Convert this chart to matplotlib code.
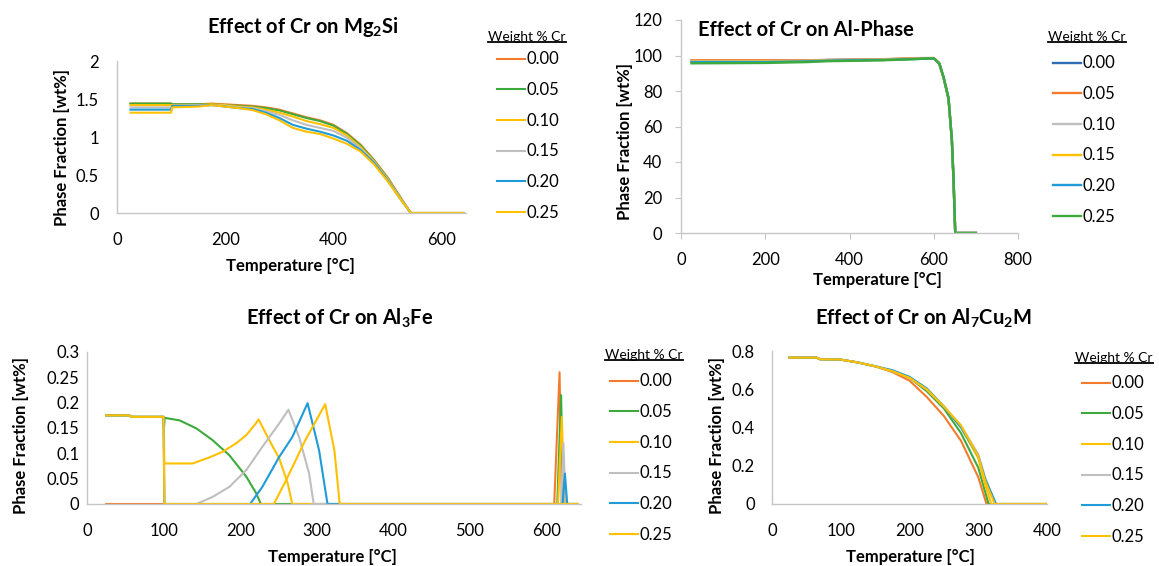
import matplotlib.pyplot as plt
from matplotlib.lines import Line2D

plt.rcParams['font.family'] = ['Lato', 'DejaVu Sans']
plt.rcParams['mathtext.fontset'] = 'custom'
plt.rcParams['mathtext.rm'] = 'Lato'
plt.rcParams['mathtext.bf'] = 'Lato:bold'

W, H = 1159, 566

cr_levels = ['0.00', '0.05', '0.10', '0.15', '0.20', '0.25']

ORANGE = '#F47B2C'
GREEN = '#3DAA3C'
YELLOW = '#FFC000'
GRAY = '#BFBFBF'
BLUE = '#1F9BD7'
DBLUE = '#2F6DB5'

# --- Mg2Si ---
mg2si_temp = [25, 100, 102, 150, 175, 200, 225, 250, 275, 300, 325, 350, 375, 400, 425, 450,
              475, 500, 520, 543, 640]
mg2si_frac = [
    [1.44, 1.44, 1.43, 1.43, 1.44, 1.43, 1.42, 1.41, 1.39, 1.36, 1.31, 1.26, 1.22, 1.16, 1.05,
     0.90, 0.70, 0.47, 0.25, 0.0, 0.0],
    [1.44, 1.44, 1.43, 1.43, 1.43, 1.42, 1.41, 1.40, 1.38, 1.35, 1.30, 1.25, 1.21, 1.15, 1.04,
     0.89, 0.69, 0.46, 0.24, 0.0, 0.0],
    [1.42, 1.42, 1.42, 1.42, 1.43, 1.42, 1.40, 1.39, 1.36, 1.32, 1.27, 1.21, 1.17, 1.12, 1.02,
     0.87, 0.68, 0.45, 0.23, 0.0, 0.0],
    [1.39, 1.39, 1.41, 1.42, 1.42, 1.41, 1.39, 1.38, 1.34, 1.29, 1.22, 1.16, 1.12, 1.08, 0.99,
     0.85, 0.67, 0.44, 0.23, 0.0, 0.0],
    [1.36, 1.36, 1.41, 1.41, 1.42, 1.40, 1.38, 1.37, 1.32, 1.25, 1.16, 1.11, 1.07, 1.02, 0.95,
     0.83, 0.66, 0.43, 0.22, 0.0, 0.0],
    [1.32, 1.32, 1.39, 1.40, 1.42, 1.40, 1.38, 1.355, 1.30, 1.22, 1.12, 1.07, 1.04, 0.98, 0.91,
     0.81, 0.64, 0.42, 0.22, 0.0, 0.0],
]
mg2si_colors = [ORANGE, GREEN, YELLOW, GRAY, BLUE, YELLOW]

# --- Al-Phase ---
alph_temp = [25, 200, 300, 350, 480, 550, 600, 613, 623, 635, 643, 647, 651, 700]
alph_frac = [
    [96.9, 96.9, 97.0, 97.5, 97.8, 98.2, 98.4, 95.6, 88.0, 76.0, 52.5, 30.0, 0.0, 0.0],
    [97.3, 97.3, 97.3, 97.5, 97.9, 98.5, 98.6, 95.5, 87.5, 75.5, 52.0, 29.0, 0.0, 0.0],
    [96.8, 96.8, 97.0, 97.3, 97.7, 98.2, 98.4, 95.6, 88.0, 76.0, 52.5, 30.0, 0.0, 0.0],
    [96.5, 96.6, 96.9, 97.2, 97.6, 98.1, 98.4, 95.6, 88.0, 76.0, 52.5, 30.0, 0.0, 0.0],
    [96.3, 96.3, 96.7, 97.1, 97.5, 98.0, 98.4, 95.6, 88.0, 76.0, 52.5, 30.0, 0.0, 0.0],
    [95.6, 95.8, 96.3, 96.8, 97.3, 97.9, 98.4, 95.6, 88.0, 76.0, 52.5, 30.0, 0.0, 0.0],
]
alph_colors = [DBLUE, ORANGE, GRAY, YELLOW, BLUE, GREEN]

# --- Al3Fe ---
alfe_temp = [
    [25, 610, 617, 620, 640],
    [25, 55, 58, 100, 100.5, 101.5, 121, 143, 164, 186, 208, 221, 227, 614, 619, 622, 640],
    [25, 55, 58, 100, 101, 138, 147, 160, 177, 195, 208, 220, 224, 238, 251, 262, 266, 268,
     615, 620, 623, 640],
    [25, 55, 58, 100, 101, 143, 164, 186, 208, 229, 251, 263, 277, 290, 296, 619, 622, 625, 640],
    [25, 55, 58, 100, 101, 213, 229, 251, 268, 288, 303, 314, 621, 624, 627, 640],
    [25, 55, 58, 100, 101, 244, 260, 285, 311, 323, 330, 640],
]
alfe_frac = [
    [0, 0, 0.26, 0, 0],
    [0.175, 0.175, 0.172, 0.172, 0.15, 0.17, 0.165, 0.149, 0.126, 0.096, 0.054, 0.021, 0,
     0, 0.215, 0, 0],
    [0.175, 0.175, 0.172, 0.172, 0.08, 0.08, 0.085, 0.092, 0.103, 0.12, 0.136, 0.158, 0.167,
     0.126, 0.09, 0.041, 0.014, 0, 0, 0.172, 0, 0],
    [0.175, 0.175, 0.172, 0.172, 0, 0, 0.014, 0.034, 0.067, 0.113, 0.159, 0.186, 0.132, 0.06,
     0, 0, 0.12, 0, 0],
    [0.175, 0.175, 0.172, 0.172, 0, 0, 0.034, 0.093, 0.132, 0.199, 0.106, 0, 0, 0.06, 0, 0],
    [0.175, 0.175, 0.172, 0.172, 0, 0, 0.047, 0.126, 0.197, 0.106, 0, 0],
]
alfe_colors = [ORANGE, GREEN, YELLOW, GRAY, BLUE, YELLOW]

# --- Al7Cu2M ---
alcu_temp = [
    [25, 65, 70, 100, 125, 150, 175, 200, 225, 250, 275, 300, 312, 400],
    [25, 65, 70, 100, 125, 150, 175, 200, 225, 250, 275, 300, 315, 400],
    [25, 65, 70, 100, 125, 150, 175, 200, 225, 250, 275, 300, 310, 319, 400],
    [25, 65, 70, 100, 125, 150, 175, 200, 225, 250, 275, 300, 310, 325, 400],
    [25, 65, 70, 100, 125, 150, 175, 200, 225, 250, 275, 300, 310, 318, 326, 400],
    [25, 65, 70, 100, 125, 150, 175, 200, 225, 250, 275, 300, 310, 324, 400],
]
alcu_frac = [
    [0.765, 0.765, 0.757, 0.755, 0.74, 0.72, 0.69, 0.645, 0.56, 0.46, 0.33, 0.14, 0, 0],
    [0.765, 0.765, 0.757, 0.755, 0.74, 0.72, 0.695, 0.66, 0.59, 0.50, 0.37, 0.19, 0, 0],
    [0.765, 0.765, 0.757, 0.755, 0.74, 0.72, 0.695, 0.66, 0.60, 0.51, 0.40, 0.24, 0.10, 0, 0],
    [0.765, 0.765, 0.757, 0.755, 0.74, 0.72, 0.695, 0.66, 0.60, 0.51, 0.41, 0.26, 0.14, 0, 0],
    [0.765, 0.765, 0.757, 0.755, 0.74, 0.72, 0.70, 0.665, 0.605, 0.51, 0.40, 0.25, 0.13, 0.065, 0, 0],
    [0.765, 0.765, 0.757, 0.755, 0.74, 0.72, 0.695, 0.66, 0.60, 0.51, 0.41, 0.25, 0.12, 0, 0],
]
alcu_colors = [ORANGE, GREEN, YELLOW, GRAY, BLUE, YELLOW]


def fx(px):
    return px / W


def fy(py):
    return 1 - py / H


def make_axes(l, t, r, b):
    return fig.add_axes([fx(l), fy(b), (r - l) / W, (b - t) / H])


def style(ax, xlim, xticks, ylim, yticks, xpad, ypad, ticks_out=False):
    ax.set_xlim(xlim)
    ax.set_ylim(ylim)
    ax.set_xticks(xticks)
    ax.set_yticks(yticks)
    ax.set_yticklabels([('%g' % v) for v in yticks])
    for s in ['top', 'right']:
        ax.spines[s].set_visible(False)
    for s in ['left', 'bottom']:
        ax.spines[s].set_color('#C6C6C6')
        ax.spines[s].set_linewidth(1.0)
    ln = 4 if ticks_out else 0
    ax.tick_params(axis='x', length=ln, pad=xpad, labelsize=12, colors='#C6C6C6',
                   labelcolor='black', direction='out')
    ax.tick_params(axis='y', length=ln, pad=ypad, labelsize=12, colors='#C6C6C6',
                   labelcolor='black', direction='out')
    ax.patch.set_alpha(0)


legend_titles = []


def add_legend(ax, lines, x, y_first, title_x, title_y):
    # entries: x = left of handle, y_first = centre of first entry (pixels)
    leg = ax.legend(lines, cr_levels, loc='upper left',
                    bbox_to_anchor=(fx(x), fy(y_first - 6.5)), bbox_transform=fig.transFigure,
                    frameon=False, fontsize=12, handlelength=1.7,
                    handletextpad=0.05, labelspacing=0.88, borderpad=0, borderaxespad=0)
    t = fig.text(fx(title_x), fy(title_y), 'Weight % Cr', ha='left', va='center', fontsize=10)
    legend_titles.append(t)
    return leg


fig = plt.figure(figsize=(W / 100, H / 100), dpi=100)

# panel 1
ax1 = make_axes(117, 61, 466, 213)
l1 = [ax1.plot(mg2si_temp, f, color=c, lw=1.5)[0] for f, c in zip(mg2si_frac, mg2si_colors)]
style(ax1, (0, 645), [0, 200, 400, 600], (0, 2), [0, 0.5, 1, 1.5, 2], 13.5, 13)
add_legend(ax1, l1, 497, 58, 488, 37)
fig.text(fx(303), fy(27), r'Effect of Cr on Mg$_\mathbf{2}$Si', ha='center', va='center',
         fontsize=14.5, fontweight='bold')
fig.text(fx(62), fy(147), 'Phase Fraction [wt%]', rotation=90, ha='center', va='center',
         fontsize=12, fontweight='bold')
fig.text(fx(290), fy(266), 'Temperature [°C]', ha='center', va='center', fontsize=12,
         fontweight='bold')

# panel 2
ax2 = make_axes(681, 20, 1018, 233)
l2 = [ax2.plot(alph_temp, f, color=c, lw=1.7)[0] for f, c in zip(alph_frac, alph_colors)]
style(ax2, (0, 800), [0, 200, 400, 600, 800], (0, 120), [0, 20, 40, 60, 80, 100, 120],
      9.5, 9.5, ticks_out=True)
add_legend(ax2, l2, 1053, 62, 1048, 37)
fig.text(fx(698), fy(30), 'Effect of Cr on Al-Phase', ha='left', va='center',
         fontsize=14.5, fontweight='bold')
fig.text(fx(625), fy(141), 'Phase Fraction [wt%]', rotation=90, ha='center', va='center',
         fontsize=12, fontweight='bold')
fig.text(fx(877), fy(280), 'Temperature [°C]', ha='center', va='center', fontsize=12,
         fontweight='bold')

# panel 3
ax3 = make_axes(87, 352, 581, 504)
l3 = [ax3.plot(t, f, color=c, lw=1.5)[0] for t, f, c in zip(alfe_temp, alfe_frac, alfe_colors)]
style(ax3, (0, 645), [0, 100, 200, 300, 400, 500, 600], (0, 0.3),
      [0, 0.05, 0.1, 0.15, 0.2, 0.25, 0.3], 13.5, 5.5)
add_legend(ax3, l3, 610, 380, 605, 355)
fig.text(fx(340), fy(318), r'Effect of Cr on Al$_\mathbf{3}$Fe', ha='center', va='center',
         fontsize=14.5, fontweight='bold')
fig.text(fx(21), fy(435), 'Phase Fraction [wt%]', rotation=90, ha='center', va='center',
         fontsize=12, fontweight='bold')
fig.text(fx(332), fy(557), 'Temperature [°C]', ha='center', va='center', fontsize=12,
         fontweight='bold')

# panel 4
ax4 = make_axes(772, 351, 1047, 504)
l4 = [ax4.plot(t, f, color=c, lw=1.5)[0] for t, f, c in zip(alcu_temp, alcu_frac, alcu_colors)]
style(ax4, (0, 400), [0, 100, 200, 300, 400], (0, 0.8), [0, 0.2, 0.4, 0.6, 0.8], 13.5, 12.5)
add_legend(ax4, l4, 1082, 382, 1075, 358)
fig.text(fx(923), fy(318), r'Effect of Cr on Al$_\mathbf{7}$Cu$_\mathbf{2}$M', ha='center',
         va='center', fontsize=14.5, fontweight='bold')
fig.text(fx(717), fy(435), 'Phase Fraction [wt%]', rotation=90, ha='center', va='center',
         fontsize=12, fontweight='bold')
fig.text(fx(910), fy(557), 'Temperature [°C]', ha='center', va='center', fontsize=12,
         fontweight='bold')

# underline the legend titles
fig.canvas.draw()
inv = fig.transFigure.inverted()
for t in legend_titles:
    bb = t.get_window_extent().transformed(inv)
    fig.add_artist(Line2D([bb.x0, bb.x1], [bb.y0 + 0.001, bb.y0 + 0.001],
                          transform=fig.transFigure, color='black', lw=1.3))

fig.savefig('out.png', dpi=100)
